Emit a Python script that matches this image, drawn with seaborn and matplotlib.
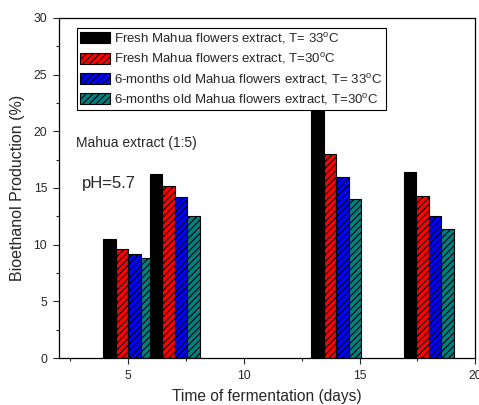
import matplotlib
matplotlib.use("Agg")
import matplotlib.pyplot as plt
from matplotlib.patches import Patch
from matplotlib.ticker import MultipleLocator
import seaborn as sns
import pandas as pd

days = [5, 7, 14, 18]
series_names = [
    r"Fresh Mahua flowers extract, T= 33$^\mathrm{o}$C",
    r"Fresh Mahua flowers extract, T=30$^\mathrm{o}$C",
    r"6-months old Mahua flowers extract, T= 33$^\mathrm{o}$C",
    r"6-months old Mahua flowers extract, T=30$^\mathrm{o}$C",
]
fresh_33 = [10.5, 16.2, 22.0, 16.4]
fresh_30 = [9.6, 15.2, 18.0, 14.3]
old_33 = [9.2, 14.2, 16.0, 12.5]
old_30 = [8.8, 12.5, 14.0, 11.4]
colors = ["#000000", "#FF0000", "#0000FF", "#008080"]
hatches = ["", "/////", "/////", "/////"]

sns.set_style("ticks")
plt.rcParams["font.family"] = ["Liberation Sans", "DejaVu Sans"]
plt.rcParams["mathtext.fontset"] = "custom"
plt.rcParams["mathtext.rm"] = "Liberation Sans"
plt.rcParams["hatch.linewidth"] = 0.8
plt.rcParams["hatch.color"] = "black"

rows = []
for name, vals in zip(series_names, [fresh_33, fresh_30, old_33, old_30]):
    for d, v in zip(days, vals):
        rows.append({"day": d, "value": v, "series": name})
df = pd.DataFrame(rows)

fig = plt.figure(figsize=(4.79, 4.05), dpi=100)
ax = fig.add_axes([0.123, 0.116, 0.869, 0.84])

sns.barplot(data=df, x="day", y="value", hue="series", hue_order=series_names,
            palette=colors, native_scale=True, width=1.08, dodge=True,
            legend=False, ax=ax, saturation=1, edgecolor="black", linewidth=0.8)

for i, cont in enumerate(ax.containers):
    for p in cont.patches:
        p.set_hatch(hatches[i])
        p.set_edgecolor("black")
        p.set_zorder(3 if i == 0 else 2)

ax.set_xlim(2, 20)
ax.set_ylim(0, 30)
ax.xaxis.set_major_locator(MultipleLocator(5))
ax.xaxis.set_minor_locator(MultipleLocator(2.5))
ax.yaxis.set_major_locator(MultipleLocator(5))
ax.yaxis.set_minor_locator(MultipleLocator(2.5))
ax.tick_params(which="both", direction="out", top=False, right=False,
               labelsize=8.7, width=0.8)
ax.tick_params(which="major", length=4, pad=4.5)
ax.tick_params(which="minor", length=2.5)
for s in ax.spines.values():
    s.set_visible(True)
    s.set_linewidth(0.9)
    s.set_color("black")

ax.set_xlabel("Time of fermentation (days)", fontsize=11.2, labelpad=5.5)
ax.set_ylabel("Bioethanol Production (%)", fontsize=11.5, labelpad=6)

ax.text(2.73, 19.0, "Mahua extract (1:5)", fontsize=10, va="center", ha="left")
ax.text(3.0, 15.4, "pH=5.7", fontsize=12, va="center", ha="left")

handles = [Patch(facecolor=c, edgecolor="black", hatch=h, linewidth=0.8)
           for c, h in zip(colors, hatches)]
leg = ax.legend(handles, series_names, loc="upper left",
                bbox_to_anchor=(0.043, 0.971), fontsize=9.5, frameon=True,
                fancybox=False, edgecolor="black", framealpha=1,
                handlelength=2.3, handleheight=0.9, handletextpad=0.3,
                labelspacing=0.4, borderpad=0.25, borderaxespad=0)
leg.get_frame().set_linewidth(0.8)

fig.savefig("out.png", dpi=100)
